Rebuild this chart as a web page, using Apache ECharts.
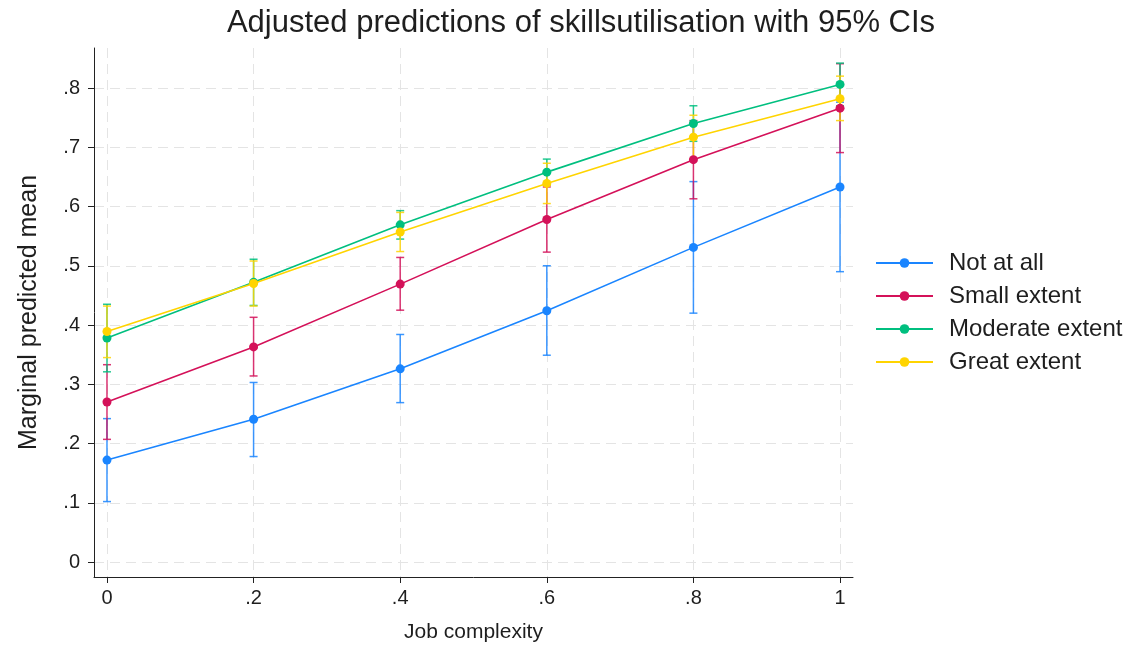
<!DOCTYPE html>
<html>
<head>
<meta charset="utf-8">
<title>Adjusted predictions of skillsutilisation</title>
<script src="https://cdn.jsdelivr.net/npm/echarts@6/dist/echarts.min.js"></script>
<style>
  html, body { margin: 0; padding: 0; background: #ffffff; }
  #chart { width: 1132px; height: 648px; }
</style>
</head>
<body>
<div id="chart"></div>
<script>
// Job complexity levels (x) and the four skills-utilisation groups
const complexity = [0, 0.2, 0.4, 0.6, 0.8, 1];
const groupNames = ['Not at all', 'Small extent', 'Moderate extent', 'Great extent'];

// Marginal predicted means with 95% confidence limits
const notAtAll     = [0.172, 0.241, 0.326, 0.424, 0.531, 0.633];
const notAtAllLo   = [0.102, 0.178, 0.269, 0.349, 0.420, 0.490];
const notAtAllHi   = [0.242, 0.303, 0.384, 0.500, 0.642, 0.776];

const smallExt     = [0.270, 0.363, 0.469, 0.578, 0.679, 0.766];
const smallExtLo   = [0.207, 0.314, 0.425, 0.523, 0.613, 0.691];
const smallExtHi   = [0.333, 0.413, 0.514, 0.633, 0.745, 0.841];

const moderateExt   = [0.378, 0.472, 0.569, 0.658, 0.740, 0.806];
const moderateExtLo = [0.321, 0.433, 0.545, 0.636, 0.710, 0.770];
const moderateExtHi = [0.435, 0.511, 0.593, 0.680, 0.770, 0.842];

const greatExt     = [0.389, 0.470, 0.557, 0.639, 0.717, 0.782];
const greatExtLo   = [0.345, 0.432, 0.524, 0.605, 0.680, 0.745];
const greatExtHi   = [0.432, 0.508, 0.590, 0.673, 0.754, 0.820];

// Tick labels
const xTicks = [0, 0.2, 0.4, 0.6, 0.8, 1];
const yTicks = [0, 0.1, 0.2, 0.3, 0.4, 0.5, 0.6, 0.7, 0.8];

const colors = ['#1a85ff', '#d41159', '#00bf7f', '#ffd400'];
const FONT = '"Liberation Sans", Arial, sans-serif';
const INK = '#1e1e1e';

const groups = [
  { name: groupNames[0], mean: notAtAll,    lo: notAtAllLo,    hi: notAtAllHi },
  { name: groupNames[1], mean: smallExt,    lo: smallExtLo,    hi: smallExtHi },
  { name: groupNames[2], mean: moderateExt, lo: moderateExtLo, hi: moderateExtHi },
  { name: groupNames[3], mean: greatExt,    lo: greatExtLo,    hi: greatExtHi }
];

// Stata-style labels: drop the leading zero (".2", ".4", ...)
function fmt(v) {
  const r = Math.round(v * 10) / 10;
  if (r === 0) return '0';
  if (r === 1) return '1';
  return String(r).replace(/^0/, '');
}

// Capped error bar drawn from the axis scales
function ciRenderer(color) {
  return function (params, api) {
    const x = api.value(0);
    const top = api.coord([x, api.value(2)]);
    const bot = api.coord([x, api.value(1)]);
    const half = 4;
    const style = { stroke: color, lineWidth: 1.5, opacity: 0.85 };
    return {
      type: 'group',
      children: [
        { type: 'line', shape: { x1: top[0], y1: top[1], x2: bot[0], y2: bot[1] }, style: style },
        { type: 'line', shape: { x1: top[0] - half, y1: top[1], x2: top[0] + half, y2: top[1] }, style: style },
        { type: 'line', shape: { x1: bot[0] - half, y1: bot[1], x2: bot[0] + half, y2: bot[1] }, style: style }
      ]
    };
  };
}

const series = [];
groups.forEach(function (g, i) {
  series.push({
    type: 'custom',
    name: g.name + ' CI',
    renderItem: ciRenderer(colors[i]),
    data: complexity.map(function (x, k) { return [x, g.lo[k], g.hi[k]]; }),
    encode: { x: 0, y: [1, 2] },
    z: 2 + i,
    silent: true
  });
});
groups.forEach(function (g, i) {
  series.push({
    type: 'line',
    name: g.name,
    data: complexity.map(function (x, k) { return [x, g.mean[k]]; }),
    color: colors[i],
    symbol: 'circle',
    symbolSize: 9,
    showSymbol: true,
    lineStyle: { width: 1.6, color: colors[i] },
    itemStyle: { color: colors[i] },
    z: 10 + i,
    animation: false
  });
});

const gridLine = { show: true, lineStyle: { color: '#e4e4e4', type: [10, 6], width: 1 } };

const option = {
  backgroundColor: '#ffffff',
  animation: false,
  title: {
    text: 'Adjusted predictions of skillsutilisation with 95% CIs',
    left: 576,
    textAlign: 'center',
    top: 3,
    textStyle: { fontFamily: FONT, fontSize: 31, fontWeight: 'normal', color: INK }
  },
  legend: {
    orient: 'vertical',
    left: 870,
    top: 245,
    itemWidth: 57,
    itemHeight: 12,
    itemGap: 7,
    data: groupNames,
    textStyle: { fontFamily: FONT, fontSize: 24, color: INK, lineHeight: 26, padding: [0, 0, 0, 11] }
  },
  grid: { left: 94, right: 279, top: 48, bottom: 71, containLabel: false },
  xAxis: {
    type: 'value',
    min: -0.0177,
    max: 1.0177,
    name: 'Job complexity',
    nameLocation: 'middle',
    nameGap: 45,
    nameTextStyle: { fontFamily: FONT, fontSize: 21, color: INK },
    axisLine: { show: true, onZero: false, lineStyle: { color: '#222', width: 1 } },
    axisTick: { show: true, length: 6, customValues: xTicks, lineStyle: { color: '#222' } },
    axisLabel: { customValues: xTicks, formatter: fmt, margin: 11,
                 fontFamily: FONT, fontSize: 20, color: INK },
    splitLine: gridLine
  },
  yAxis: {
    type: 'value',
    min: -0.0253,
    max: 0.8675,
    name: 'Marginal predicted mean',
    nameLocation: 'middle',
    nameGap: 52,
    nameTextStyle: { fontFamily: FONT, fontSize: 25, color: INK },
    axisLine: { show: true, onZero: false, lineStyle: { color: '#222', width: 1 } },
    axisTick: { show: true, length: 6, customValues: yTicks, lineStyle: { color: '#222' } },
    axisLabel: { customValues: yTicks, formatter: fmt, margin: 14,
                 fontFamily: FONT, fontSize: 20, color: INK },
    splitLine: gridLine
  },
  series: series
};

const chart = echarts.init(document.getElementById('chart'), null, { renderer: 'canvas' });
chart.setOption(option);
</script>
</body>
</html>
